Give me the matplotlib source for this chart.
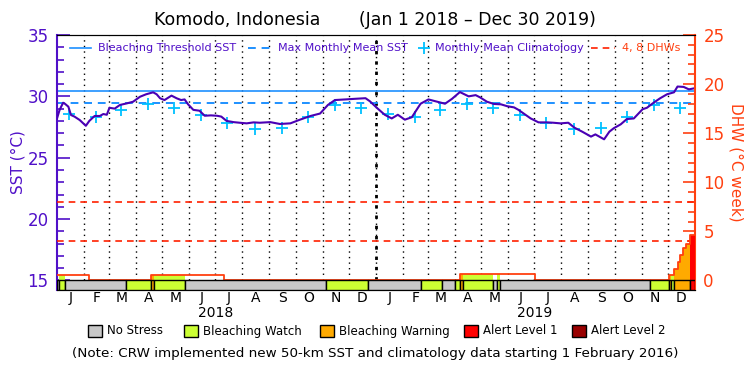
import pandas as pd
import matplotlib
matplotlib.use('Agg')
import matplotlib.pyplot as plt
from matplotlib.patches import Rectangle

# --- Data ---
sst_dates = ['2018-01-01', '2018-01-04', '2018-01-08', '2018-01-10', '2018-01-14', '2018-01-17',
             '2018-01-21', '2018-01-27', '2018-02-03', '2018-02-07', '2018-02-13', '2018-02-19',
             '2018-02-23', '2018-02-27', '2018-03-02', '2018-03-08', '2018-03-14', '2018-03-22',
             '2018-03-29', '2018-04-06', '2018-04-13', '2018-04-21', '2018-04-25', '2018-04-29',
             '2018-05-04', '2018-05-12', '2018-05-18', '2018-05-23', '2018-05-27', '2018-05-31',
             '2018-06-06', '2018-06-13', '2018-06-19', '2018-06-26', '2018-07-03', '2018-07-08',
             '2018-07-14', '2018-07-22', '2018-07-29', '2018-08-06', '2018-08-14', '2018-08-21',
             '2018-09-02', '2018-09-13', '2018-09-25', '2018-10-06', '2018-10-18', '2018-10-29',
             '2018-11-07', '2018-11-15', '2018-11-27', '2018-12-08', '2018-12-20', '2018-12-25',
             '2019-01-03', '2019-01-11', '2019-01-19', '2019-01-26', '2019-02-03', '2019-02-11',
             '2019-02-21', '2019-03-02', '2019-03-10', '2019-03-21', '2019-03-29', '2019-04-07',
             '2019-04-17', '2019-04-25', '2019-04-30', '2019-05-08', '2019-05-16', '2019-05-24',
             '2019-05-31', '2019-06-08', '2019-06-13', '2019-06-19', '2019-06-27', '2019-07-06',
             '2019-07-16', '2019-07-23', '2019-07-31', '2019-08-09', '2019-08-16', '2019-08-25',
             '2019-09-04', '2019-09-09', '2019-09-19', '2019-09-25', '2019-09-30', '2019-10-08',
             '2019-10-15', '2019-10-23', '2019-11-02', '2019-11-07', '2019-11-15', '2019-11-22',
             '2019-11-30', '2019-12-08', '2019-12-12', '2019-12-19', '2019-12-25', '2019-12-30']
sst_values = [28.2, 28.9, 29.48, 29.4, 29.16, 28.48,
              28.35, 28.07, 27.6, 28.0, 28.4, 28.4,
              28.56, 28.5, 29.07, 29.0, 29.3, 29.43,
              29.56, 29.97, 30.17, 30.33, 30.17, 29.84,
              29.7, 30.06, 29.84, 29.7, 29.75, 29.35,
              28.9, 28.83, 28.42, 28.45, 28.42, 28.35,
              28.0, 27.9, 27.85, 27.8, 27.88, 27.85,
              27.9, 27.75, 27.8, 28.1, 28.4, 28.6,
              29.3, 29.7, 29.75, 29.8, 29.85, 29.6,
              29.0, 28.5, 28.2, 28.5, 28.1, 28.3,
              29.4, 29.75, 29.6, 29.4, 29.8, 30.35,
              30.0, 30.1, 29.92, 29.56, 29.38, 29.35,
              29.2, 29.1, 28.9, 28.6, 28.2, 27.88,
              27.88, 27.85, 27.8, 27.85, 27.45, 27.12,
              26.72, 26.9, 26.5, 27.12, 27.4, 27.72,
              28.15, 28.2, 28.95, 29.07, 29.5, 29.84,
              30.17, 30.33, 30.8, 30.77, 30.57, 30.64]

clim_values = [28.54, 28.35, 28.9, 29.4, 29.07, 28.45, 27.8, 27.35, 27.45, 28.35, 29.3, 29.07]
mmm = 29.45
bleaching_threshold = 30.45
dhw_lines = [4, 8]

# degree heating weeks (step values, each holds until the next date)
dhw_dates = ['2018-01-01', '2018-02-07', '2018-04-19', '2018-07-11', '2019-04-07', '2019-07-02',
             '2019-12-02', '2019-12-08', '2019-12-12', '2019-12-15', '2019-12-18', '2019-12-22',
             '2019-12-26', '2020-01-01']
dhw_values = [0.55, 0, 0.55, 0, 0.65, 0, 0.55, 1.2, 1.9, 2.6, 3.3, 3.7, 4.6, 4.6]

# stress level periods: 0 none, 1 watch, 2 warning, 3 alert 1, 4 alert 2
stress_dates = ['2018-01-01', '2018-01-03', '2018-01-10', '2018-03-21', '2018-04-19', '2018-04-22',
                '2018-05-28', '2018-11-05', '2018-12-23', '2019-02-21', '2019-03-18', '2019-04-01',
                '2019-04-07', '2019-04-10', '2019-05-15', '2019-05-20', '2019-05-23', '2019-11-11',
                '2019-12-02', '2019-12-05', '2019-12-08', '2019-12-26', '2020-01-01']
stress_levels = [0, 1, 0, 1, 2, 1, 0, 1, 0, 1, 0, 1, 2, 1, 0, 1, 0, 1, 2, 1, 2, 3]

stress_names = ['No Stress', 'Bleaching Watch', 'Bleaching Warning', 'Alert Level 1', 'Alert Level 2']
stress_colors = ['#c8c8c8', '#ccff33', '#ffaa00', '#ff0000', '#990000']
month_letters = ['J', 'F', 'M', 'A', 'M', 'J', 'J', 'A', 'S', 'O', 'N', 'D'] * 2
years = ['2018', '2019']

# --- Colours ---
purple = '#5010c8'
sst_col = '#4a00b4'
blue = '#1e90ff'
cyan = '#00c0ff'
orange_red = '#ff4010'
red = '#ff2000'

sst_t = pd.to_datetime(sst_dates)
dhw_t = pd.to_datetime(dhw_dates)
st_t = pd.to_datetime(stress_dates)
months = pd.date_range('2018-01-01', '2020-01-01', freq='MS')
mids = months[:-1] + (months[1:] - months[:-1]) / 2
clim_t = pd.to_datetime([f'{y}-{m:02d}-15' for y in years for m in range(1, 13)])

plt.rcParams['font.family'] = 'DejaVu Sans'
fig = plt.figure(figsize=(7.5, 3.75), dpi=100)
ax = fig.add_axes([57 / 750, 85 / 375, 638 / 750, 255 / 375])
ax2 = ax.twinx()

ax.set_xlim(months[0], months[-1])
ax.set_ylim(14.22, 35)
ax2.set_ylim(-0.975, 25)

# month grid
ax.vlines(months[1:-1], 15, 35, colors='k', linestyles=(0, (1, 3)), lw=1, zorder=1)
ax.vlines([pd.Timestamp('2019-01-01')], 15, 35, colors='k', linestyles=(0, (1.2, 2.5)), lw=2, zorder=1)

# SST series
ax.axhline(bleaching_threshold, color=blue, lw=1.2, zorder=2)
ax.axhline(mmm, color=blue, lw=1.4, ls=(0, (4, 3)), zorder=2)
ax.plot(clim_t, clim_values * 2, ls='none', marker='+', ms=9, mew=1.3, color=cyan, zorder=3)
ax.plot(sst_t, sst_values, color=sst_col, lw=1.5, zorder=4)

# DHW
for v in dhw_lines:
    ax2.axhline(v, color=red, lw=1.2, ls=(0, (4, 3)), zorder=2)

# fill under DHW coloured by stress level
breaks = sorted(set(dhw_t) | set(st_t))
for a, b in zip(breaks[:-1], breaks[1:]):
    lev = stress_levels[max(i for i in range(len(stress_levels)) if st_t[i] <= a)]
    d = dhw_values[max(i for i in range(len(dhw_values)) if dhw_t[i] <= a)]
    if lev > 0 and d > 0:
        ax2.bar(a, d, width=b - a, align='edge', color=stress_colors[lev], lw=0, zorder=3)
ax2.step(dhw_t, dhw_values, where='post', color=orange_red, lw=1.3, zorder=4)

# stress bar
for i, lev in enumerate(stress_levels):
    ax2.bar(st_t[i], 0.975, bottom=-0.975, width=st_t[i + 1] - st_t[i], align='edge',
            color=stress_colors[lev], edgecolor='black', lw=1, zorder=5)

# axes styling
ax.set_xticks([])
ax2.set_xticks([])
ax.set_yticks([15, 20, 25, 30, 35])
ax.set_yticks(range(15, 36), minor=True)
ax2.set_yticks([0, 5, 10, 15, 20, 25])
ax2.set_yticks(range(0, 26), minor=True)
ax.tick_params(axis='y', which='major', direction='in', length=9, width=1.2, color=purple,
               labelcolor=purple, labelsize=12, pad=6)
ax.tick_params(axis='y', which='minor', direction='in', length=5, width=1.2, color=purple)
ax2.tick_params(axis='y', which='major', direction='in', length=9, width=1.2, color=orange_red,
                labelcolor=orange_red, labelsize=12, pad=6)
ax2.tick_params(axis='y', which='minor', direction='in', length=5, width=1.2, color=orange_red)
for a_ in (ax, ax2):
    a_.spines['top'].set_color('black')
    a_.spines['bottom'].set_color('black')
ax.spines['left'].set_color(purple)
ax.spines['left'].set_linewidth(1.5)
ax.spines['right'].set_visible(False)
ax2.spines['left'].set_visible(False)
ax2.spines['right'].set_color(orange_red)
ax2.spines['right'].set_linewidth(1.5)

fig.text(18 / 750, 1 - 162 / 375, 'SST (°C)', rotation=90, color=purple, fontsize=11,
         ha='center', va='center')
fig.text(736 / 750, 1 - 162 / 375, 'DHW (°C week)', rotation=270, color=orange_red, fontsize=11,
         ha='center', va='center')

# month and year labels
bt = ax.get_xaxis_transform()
for m, lab in zip(mids, month_letters):
    ax.text(m, -0.032, lab, transform=bt, ha='center', va='center', fontsize=10)
for y in years:
    ax.text(pd.Timestamp(f'{y}-07-02'), -0.09, y, transform=bt, ha='center', va='center', fontsize=10)

# title
fig.text(0.5, 1 - 20 / 375, 'Komodo, Indonesia       (Jan 1 2018 – Dec 30 2019)',
         ha='center', va='center', fontsize=12.5)

# top legend
ly = 0.949
ta = ax.transAxes
ax.plot([0.020, 0.053], [ly, ly], color=blue, lw=1.2, transform=ta, clip_on=False)
ax.text(0.064, ly, 'Bleaching Threshold SST', color=purple, fontsize=8, va='center', transform=ta)
ax.plot([0.299, 0.337], [ly, ly], color=blue, lw=1.4, ls=(0, (4, 3)), transform=ta, clip_on=False)
ax.text(0.346, ly, 'Max Monthly Mean SST', color=purple, fontsize=8, va='center', transform=ta)
ax.plot([0.575], [ly], marker='+', ms=8, mew=1.3, color=cyan, transform=ta, clip_on=False)
ax.text(0.5925, ly, 'Monthly Mean Climatology', color=purple, fontsize=8, va='center', transform=ta)
ax.plot([0.837, 0.875], [ly, ly], color=red, lw=1.2, ls=(0, (4, 3)), transform=ta, clip_on=False)
ax.text(0.8856, ly, '4, 8 DHWs', color=orange_red, fontsize=8, va='center', transform=ta)

# bottom legend
box_x = [88, 184, 320, 464, 572]
by = 1 - 331 / 375
for bx, name, col in zip(box_x, stress_names, stress_colors):
    fig.patches.append(Rectangle((bx / 750, by - 6 / 375), 14 / 750, 12 / 375, facecolor=col,
                                 edgecolor='black', lw=1, transform=fig.transFigure))
    fig.text((bx + 19) / 750, by, name, fontsize=8.5, va='center')
fig.text(0.5, 1 - 353 / 375,
         '(Note: CRW implemented new 50-km SST and climatology data starting 1 February 2016)',
         ha='center', va='center', fontsize=9.7)

fig.savefig('out.png', dpi=100)
